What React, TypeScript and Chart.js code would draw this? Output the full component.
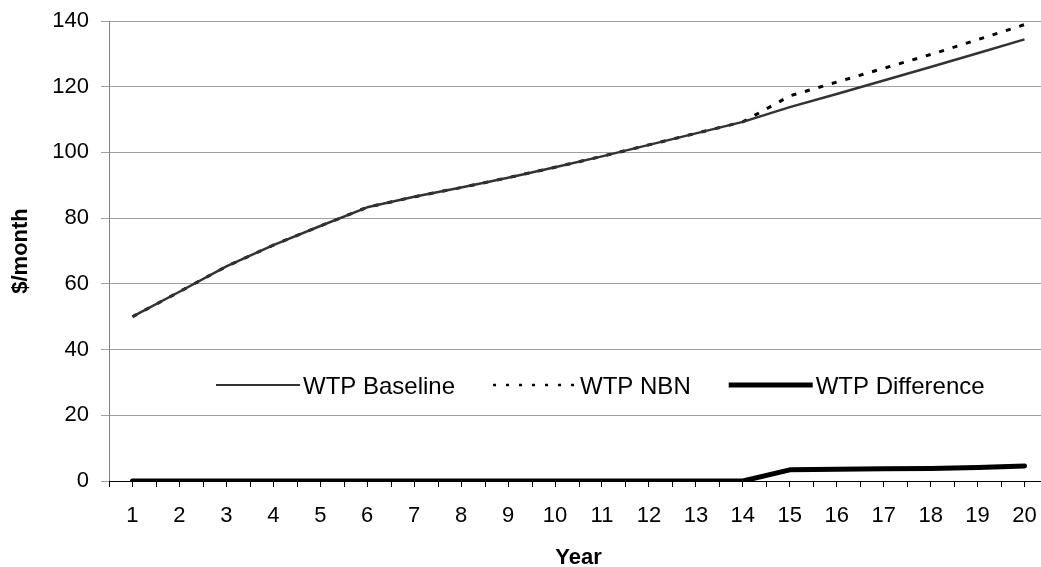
import React, { useEffect, useRef } from "react";
import { Chart, registerables } from "chart.js";

Chart.register(...registerables);

const years: string[] = ["1", "2", "3", "4", "5", "6", "7", "8", "9", "10", "11", "12", "13", "14", "15", "16", "17", "18", "19", "20"];
const wtpBaseline: number[] = [50, 57.6, 65.3, 71.8, 77.6, 83.3, 86.5, 89.3, 92.3, 95.5, 98.8, 102.3, 105.8, 109.3, 113.8, 117.8, 121.9, 126.0, 130.2, 134.4];
const wtpNBN: number[] = [50, 57.6, 65.3, 71.8, 77.6, 83.3, 86.5, 89.3, 92.3, 95.5, 98.8, 102.3, 105.8, 109.3, 117.2, 121.4, 125.6, 129.8, 134.3, 138.9];
const wtpDifference: number[] = [0, 0, 0, 0, 0, 0, 0, 0, 0, 0, 0, 0, 0, 0, 3.4, 3.6, 3.7, 3.8, 4.1, 4.6];
const seriesNames: string[] = ["WTP Baseline", "WTP NBN", "WTP Difference"];
const yTicks = { min: 0, max: 140, step: 20 };

const FONT = "'Liberation Sans', Arial, sans-serif";

const extrasPlugin = {
  id: "extras",
  afterDraw(chart: any) {
    const ctx = chart.ctx;
    const x = chart.scales.x;
    const y = chart.scales.y;
    const area = chart.chartArea;
    ctx.save();
    // boundary tick marks on the x axis
    ctx.strokeStyle = "#000";
    ctx.lineWidth = 1;
    for (let i = 0; i <= years.length; i++) {
      const px = Math.round(x.getPixelForValue(i - 0.5)) + 0.5;
      ctx.beginPath();
      ctx.moveTo(px, area.bottom);
      ctx.lineTo(px, area.bottom + 6);
      ctx.stroke();
    }
    // legend inside plot
    const ly = y.getPixelForValue(29.2);
    ctx.font = `24px ${FONT}`;
    ctx.textBaseline = "middle";
    ctx.textAlign = "left";
    const styles = [
      { color: "#333333", width: 2, dash: [] as number[] },
      { color: "#000000", width: 2.5, dash: [3, 10] },
      { color: "#000000", width: 5, dash: [] as number[] },
    ];
    let sx = 216;
    seriesNames.forEach((name, i) => {
      const st = styles[i];
      ctx.beginPath();
      ctx.setLineDash(st.dash);
      ctx.strokeStyle = st.color;
      ctx.lineWidth = st.width;
      ctx.moveTo(sx, ly);
      ctx.lineTo(sx + 84, ly);
      ctx.stroke();
      ctx.setLineDash([]);
      ctx.fillStyle = "#000";
      ctx.fillText(name, sx + 87, ly + 2);
      const w = ctx.measureText(name).width;
      sx = sx + 87 + w + 38;
    });
    ctx.restore();
  },
};

export default function App() {
  const ref = useRef<HTMLCanvasElement | null>(null);
  useEffect(() => {
    document.body.style.margin = "0";
    if (!ref.current) return;
    const chart = new Chart(ref.current, {
      type: "line",
      data: {
        labels: years,
        datasets: [
          {
            label: seriesNames[0],
            data: wtpBaseline,
            borderColor: "#333333",
            borderWidth: 2.5,
            pointRadius: 0,
            tension: 0,
            borderJoinStyle: "round",
          },
          {
            label: seriesNames[1],
            data: wtpNBN,
            borderColor: "#000000",
            borderWidth: 3,
            borderDash: [5, 9],
            pointRadius: 0,
            tension: 0,
          },
          {
            label: seriesNames[2],
            data: wtpDifference,
            borderColor: "#000000",
            borderWidth: 5,
            pointRadius: 0,
            tension: 0,
            borderCapStyle: "round",
            borderJoinStyle: "round",
          },
        ],
      },
      options: {
        responsive: false,
        animation: false,
        layout: { padding: { left: 4, top: 21, right: 0, bottom: 0 } },
        plugins: { legend: { display: false }, tooltip: { enabled: false } },
        scales: {
          x: {
            offset: true,
            grid: { display: true, drawOnChartArea: false, drawTicks: true, tickLength: 6, color: "#000", offset: false },
            border: { display: true, color: "#000", width: 1 },
            ticks: { color: "#000", font: { family: FONT, size: 22 }, padding: 16, maxRotation: 0, autoSkip: false },
            title: { display: true, text: "Year", color: "#000", font: { family: FONT, size: 22, weight: "bold" }, padding: { top: 0, bottom: 0 } },
            afterFit: (s: any) => { s.height = 90; s.paddingLeft = 0; s.paddingRight = 0; },
          },
          y: {
            min: yTicks.min,
            max: yTicks.max,
            ticks: { stepSize: yTicks.step, color: "#000", font: { family: FONT, size: 22 }, padding: 12 },
            grid: { color: "#a0a0a0", tickLength: 8, drawTicks: true },
            border: { display: true, color: "#808080", width: 1 },
            title: { display: true, text: "$/month", color: "#000", font: { family: FONT, size: 22, weight: "bold" }, padding: { top: 4, bottom: 18 } },
            afterFit: (s: any) => { s.width = 105; s.paddingTop = 0; s.paddingBottom = 0; },
          },
        },
      },
      plugins: [extrasPlugin],
    } as any);
    return () => chart.destroy();
  }, []);
  return (
    <div style={{ width: 1041, height: 567, overflow: "hidden", position: "relative", background: "#fff" }}>
      <canvas ref={ref} width={1048} height={571} style={{ display: "block" }} />
    </div>
  );
}
